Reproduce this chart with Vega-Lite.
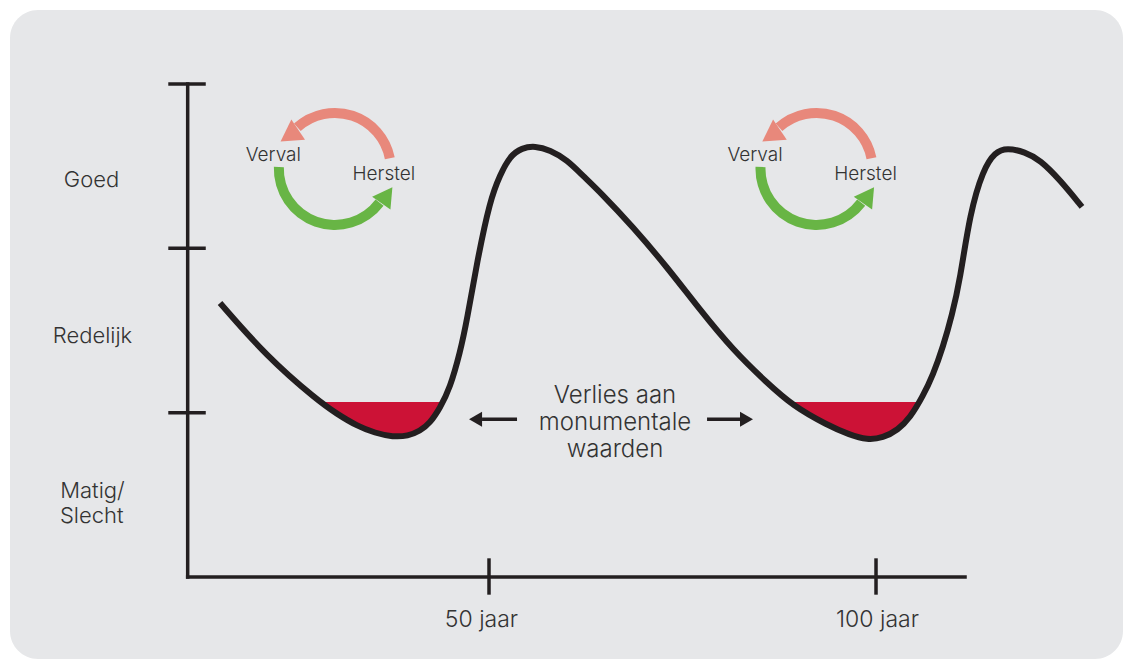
{
  "$schema": "https://vega.github.io/schema/vega-lite/v6.json",
  "autosize": {"type": "none"},
  "width": 1113,
  "height": 649,
  "padding": {"left": 10, "top": 10, "right": 0, "bottom": 0},
  "background": "#ffffff",
  "view": {"fill": "#e6e7e9", "stroke": null, "cornerRadius": 28},
  "config": {"font": "Inter", "text": {"color": "#333333", "fontWeight": 300}},
  "datasets": {
    "curve": [
      {"jaar": 15.25, "staat": 1.667}, {"jaar": 21.32, "staat": 1.339},
      {"jaar": 27.78, "staat": 1.077}, {"jaar": 30.36, "staat": 0.992},
      {"jaar": 32.95, "staat": 0.919}, {"jaar": 35.27, "staat": 0.876}, {"jaar": 37.60, "staat": 0.852},
      {"jaar": 39.53, "staat": 0.858}, {"jaar": 41.09, "staat": 0.888}, {"jaar": 42.38, "staat": 0.937},
      {"jaar": 43.67, "staat": 1.028}, {"jaar": 44.96, "staat": 1.150}, {"jaar": 46.25, "staat": 1.363},
      {"jaar": 47.16, "staat": 1.564}, {"jaar": 48.45, "staat": 1.917}, {"jaar": 50.13, "staat": 2.294},
      {"jaar": 51.42, "staat": 2.446}, {"jaar": 52.71, "staat": 2.562}, {"jaar": 54.26, "staat": 2.611},
      {"jaar": 55.94, "staat": 2.623}, {"jaar": 57.88, "staat": 2.598}, {"jaar": 60.08, "staat": 2.538},
      {"jaar": 62.14, "staat": 2.441}, {"jaar": 64.34, "staat": 2.343}, {"jaar": 68.60, "staat": 2.130},
      {"jaar": 73.00, "staat": 1.886}, {"jaar": 77.26, "staat": 1.625}, {"jaar": 81.52, "staat": 1.381},
      {"jaar": 85.92, "staat": 1.181}, {"jaar": 89.28, "staat": 1.041}, {"jaar": 93.67, "staat": 0.925},
      {"jaar": 96.64, "staat": 0.864}, {"jaar": 98.84, "staat": 0.834}, {"jaar": 100.90, "staat": 0.846},
      {"jaar": 102.84, "staat": 0.895}, {"jaar": 104.39, "staat": 0.968}, {"jaar": 106.07, "staat": 1.101},
      {"jaar": 107.36, "staat": 1.229}, {"jaar": 108.66, "staat": 1.400}, {"jaar": 109.82, "staat": 1.594},
      {"jaar": 110.85, "staat": 1.807}, {"jaar": 112.14, "staat": 2.215}, {"jaar": 113.82, "staat": 2.477},
      {"jaar": 115.37, "staat": 2.586}, {"jaar": 116.93, "staat": 2.611}, {"jaar": 119.25, "staat": 2.586},
      {"jaar": 121.19, "staat": 2.538}, {"jaar": 123.77, "staat": 2.416}, {"jaar": 126.61, "staat": 2.252}
    ],
    "verlies": [
      {"periode": 1, "jaar": 28.00, "staat": 1.065, "drempel": 1.065},
      {"periode": 1, "jaar": 30.36, "staat": 0.992, "drempel": 1.065},
      {"periode": 1, "jaar": 32.95, "staat": 0.919, "drempel": 1.065},
      {"periode": 1, "jaar": 35.27, "staat": 0.876, "drempel": 1.065},
      {"periode": 1, "jaar": 37.60, "staat": 0.852, "drempel": 1.065},
      {"periode": 1, "jaar": 39.53, "staat": 0.858, "drempel": 1.065},
      {"periode": 1, "jaar": 41.09, "staat": 0.888, "drempel": 1.065},
      {"periode": 1, "jaar": 42.38, "staat": 0.937, "drempel": 1.065},
      {"periode": 1, "jaar": 43.67, "staat": 1.028, "drempel": 1.065},
      {"periode": 1, "jaar": 44.06, "staat": 1.065, "drempel": 1.065},
      {"periode": 2, "jaar": 88.70, "staat": 1.065, "drempel": 1.065},
      {"periode": 2, "jaar": 89.28, "staat": 1.041, "drempel": 1.065},
      {"periode": 2, "jaar": 93.67, "staat": 0.925, "drempel": 1.065},
      {"periode": 2, "jaar": 96.64, "staat": 0.864, "drempel": 1.065},
      {"periode": 2, "jaar": 98.84, "staat": 0.834, "drempel": 1.065},
      {"periode": 2, "jaar": 100.90, "staat": 0.846, "drempel": 1.065},
      {"periode": 2, "jaar": 102.84, "staat": 0.895, "drempel": 1.065},
      {"periode": 2, "jaar": 104.39, "staat": 0.968, "drempel": 1.065},
      {"periode": 2, "jaar": 105.62, "staat": 1.065, "drempel": 1.065}
    ],
    "lijnen": [
      {"soort": "as", "jaar": 11.07, "jaar2": 11.07, "staat": 0, "staat2": 3.0},
      {"soort": "as", "jaar": 11.07, "jaar2": 111.5, "staat": 0, "staat2": 0},
      {"soort": "as", "jaar": 8.79, "jaar2": 13.18, "staat": 1, "staat2": 1},
      {"soort": "as", "jaar": 8.79, "jaar2": 13.18, "staat": 2, "staat2": 2},
      {"soort": "as", "jaar": 8.79, "jaar2": 13.18, "staat": 3, "staat2": 3},
      {"soort": "as", "jaar": 50, "jaar2": 50, "staat": 0.103, "staat2": -0.097},
      {"soort": "as", "jaar": 100, "jaar2": 100, "staat": 0.103, "staat2": -0.097},
      {"soort": "pijl", "jaar": 49.10, "jaar2": 53.62, "staat": 0.960, "staat2": 0.960},
      {"soort": "pijl", "jaar": 78.17, "jaar2": 82.43, "staat": 0.960, "staat2": 0.960}
    ],
    "cyclus": [
      {"jaar": 30.08, "staat": 2.483, "fase": "verval", "van": -42, "tot": 79},
      {"jaar": 30.08, "staat": 2.483, "fase": "herstel", "van": 127, "tot": 272},
      {"jaar": 92.31, "staat": 2.483, "fase": "verval", "van": -42, "tot": 79},
      {"jaar": 92.31, "staat": 2.483, "fase": "herstel", "van": 127, "tot": 272}
    ],
    "koppen": [
      {"soort": "verval", "jaar": 24.21, "staat": 2.686},
      {"soort": "verval", "jaar": 86.45, "staat": 2.686},
      {"soort": "herstel", "jaar": 36.80, "staat": 2.323},
      {"soort": "herstel", "jaar": 99.03, "staat": 2.323},
      {"soort": "links", "jaar": 48.26, "staat": 0.960},
      {"soort": "rechts", "jaar": 83.27, "staat": 0.960}
    ],
    "teksten": [
      {"groep": "niveau", "jaar": -1.36, "staat": 2.371, "tekst": "Goed"},
      {"groep": "niveau", "jaar": -1.23, "staat": 1.422, "tekst": "Redelijk"},
      {"groep": "niveau", "jaar": -1.23, "staat": 0.479, "tekst": "Matig/"},
      {"groep": "niveau", "jaar": -1.33, "staat": 0.329, "tekst": "Slecht"},
      {"groep": "as", "jaar": 49.03, "staat": -0.304, "tekst": "50 jaar"},
      {"groep": "as", "jaar": 100.19, "staat": -0.304, "tekst": "100 jaar"},
      {"groep": "cyclus", "jaar": 22.13, "staat": 2.533, "tekst": "Verval"},
      {"groep": "cyclus", "jaar": 36.41, "staat": 2.416, "tekst": "Herstel"},
      {"groep": "cyclus", "jaar": 84.37, "staat": 2.533, "tekst": "Verval"},
      {"groep": "cyclus", "jaar": 98.64, "staat": 2.416, "tekst": "Herstel"},
      {"groep": "verlies", "jaar": 66.28, "staat": 1.057, "tekst": "Verlies aan"},
      {"groep": "verlies", "jaar": 66.28, "staat": 0.895, "tekst": "monumentale"},
      {"groep": "verlies", "jaar": 66.28, "staat": 0.730, "tekst": "waarden"}
    ]
  },
  "encoding": {
    "x": {"field": "jaar", "type": "quantitative", "axis": null,
          "scale": {"domain": [-11.886, 131.91], "nice": false, "zero": false}},
    "y": {"field": "staat", "type": "quantitative", "axis": null,
          "scale": {"domain": [-0.499, 3.45], "nice": false, "zero": false}}
  },
  "layer": [
    {
      "data": {"name": "verlies"},
      "mark": {"type": "area", "interpolate": "basis", "color": "#cc1236", "opacity": 1},
      "encoding": {"y2": {"field": "drempel"}, "detail": {"field": "periode", "type": "nominal"}}
    },
    {
      "data": {"name": "curve"},
      "mark": {"type": "line", "interpolate": "basis", "color": "#231f20", "strokeWidth": 6},
      "encoding": {}
    },
    {
      "data": {"name": "lijnen"},
      "transform": [{"filter": "datum.soort == 'as'"}],
      "mark": {"type": "rule", "color": "#231f20", "strokeWidth": 3.5, "strokeCap": "square"},
      "encoding": {"x2": {"field": "jaar2"}, "y2": {"field": "staat2"}}
    },
    {
      "data": {"name": "lijnen"},
      "transform": [{"filter": "datum.soort == 'pijl'"}],
      "mark": {"type": "rule", "color": "#231f20", "strokeWidth": 3.5},
      "encoding": {"x2": {"field": "jaar2"}, "y2": {"field": "staat2"}}
    },
    {
      "data": {"name": "cyclus"},
      "mark": {"type": "arc", "innerRadius": 51, "outerRadius": 61},
      "encoding": {
        "theta": {"field": "van", "type": "quantitative", "stack": null,
                  "scale": {"domain": [0, 360], "range": [0, 6.283185307]}},
        "theta2": {"field": "tot"},
        "color": {"field": "fase", "type": "nominal", "legend": null,
                  "scale": {"domain": ["verval", "herstel"], "range": ["#e8887b", "#68b545"]}}
      }
    },
    {
      "data": {"name": "koppen"},
      "transform": [{"filter": "datum.soort == 'verval'"}],
      "mark": {"type": "point", "shape": "triangle-up", "filled": true, "color": "#e8887b", "opacity": 1, "size": 600, "angle": 236}
    },
    {
      "data": {"name": "koppen"},
      "transform": [{"filter": "datum.soort == 'herstel'"}],
      "mark": {"type": "point", "shape": "triangle-up", "filled": true, "color": "#68b545", "opacity": 1, "size": 500, "angle": 35}
    },
    {
      "data": {"name": "koppen"},
      "transform": [{"filter": "datum.soort == 'links'"}],
      "mark": {"type": "point", "shape": "triangle-up", "filled": true, "color": "#231f20", "opacity": 1, "size": 225, "angle": 270}
    },
    {
      "data": {"name": "koppen"},
      "transform": [{"filter": "datum.soort == 'rechts'"}],
      "mark": {"type": "point", "shape": "triangle-up", "filled": true, "color": "#231f20", "opacity": 1, "size": 225, "angle": 90}
    },
    {
      "data": {"name": "teksten"},
      "transform": [{"filter": "datum.groep == 'niveau'"}],
      "mark": {"type": "text", "fontSize": 22, "align": "center", "baseline": "alphabetic"},
      "encoding": {"text": {"field": "tekst"}}
    },
    {
      "data": {"name": "teksten"},
      "transform": [{"filter": "datum.groep == 'as'"}],
      "mark": {"type": "text", "fontSize": 23, "align": "center", "baseline": "alphabetic"},
      "encoding": {"text": {"field": "tekst"}}
    },
    {
      "data": {"name": "teksten"},
      "transform": [{"filter": "datum.groep == 'cyclus'"}],
      "mark": {"type": "text", "fontSize": 19, "align": "center", "baseline": "alphabetic"},
      "encoding": {"text": {"field": "tekst"}}
    },
    {
      "data": {"name": "teksten"},
      "transform": [{"filter": "datum.groep == 'verlies'"}],
      "mark": {"type": "text", "fontSize": 24, "align": "center", "baseline": "alphabetic"},
      "encoding": {"text": {"field": "tekst"}}
    }
  ]
}
